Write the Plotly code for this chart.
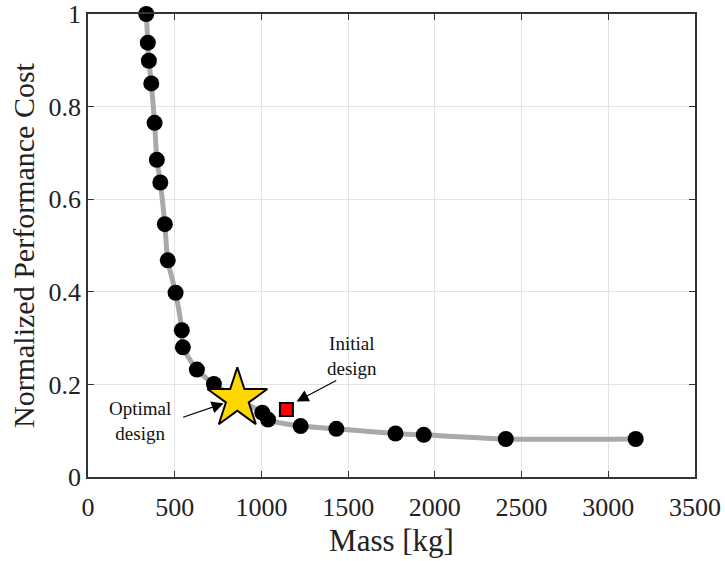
import plotly.graph_objects as go

# Pareto front designs
mass = [336, 345, 351, 365, 384, 397, 417, 443, 460, 505, 541, 547, 628, 726,
        1005, 1038, 1226, 1432, 1773, 1936, 2409, 3158]
cost = [1.0, 0.938, 0.899, 0.850, 0.765, 0.685, 0.636, 0.546, 0.468, 0.398, 0.317,
        0.280, 0.232, 0.201, 0.139, 0.124, 0.110, 0.104, 0.094, 0.091, 0.082, 0.082]

optimal_mass = [861]
optimal_cost = [0.169]
initial_mass = [1144]
initial_cost = [0.146]

x_ticks = [0, 500, 1000, 1500, 2000, 2500, 3000, 3500]
y_ticks = [0, 0.2, 0.4, 0.6, 0.8, 1.0]
y_tick_labels = ["0", "0.2", "0.4", "0.6", "0.8", "1"]

# front line passes through the optimal design
line_pts = sorted(zip(mass + optimal_mass, cost + optimal_cost))
line_x = [p[0] for p in line_pts]
line_y = [p[1] for p in line_pts]

FONT = "Liberation Serif, Times New Roman, serif"

fig = go.Figure()
fig.add_trace(go.Scatter(x=line_x, y=line_y, mode="lines",
                         line=dict(color="#a9a9ad", width=5, shape="spline", smoothing=0.6),
                         hoverinfo="skip", showlegend=False, cliponaxis=False))
fig.add_trace(go.Scatter(x=mass, y=cost, mode="markers",
                         marker=dict(color="black", size=16), showlegend=False,
                         cliponaxis=False))
fig.add_trace(go.Scatter(x=initial_mass, y=initial_cost, mode="markers",
                         marker=dict(color="#ff0000", size=13, symbol="square",
                                     line=dict(color="black", width=2)), showlegend=False))
fig.add_trace(go.Scatter(x=optimal_mass, y=optimal_cost, mode="markers",
                         marker=dict(color="#ffd700", size=45, symbol="star",
                                     line=dict(color="black", width=2)), showlegend=False))

ann_font = dict(family=FONT, size=19, color="#111111")
fig.add_annotation(x=1520, y=0.262, xref="x", yref="y", text="Initial<br>design",
                   showarrow=False, font=ann_font)
fig.add_annotation(x=1203, y=0.163, ax=1440, ay=0.210, xref="x", yref="y",
                   axref="x", ayref="y", text="", showarrow=True,
                   arrowhead=2, arrowsize=2, arrowwidth=1.2, arrowcolor="black")
fig.add_annotation(x=297, y=0.120, xref="x", yref="y", text="Optimal<br>design",
                   showarrow=False, font=ann_font)
fig.add_annotation(x=782, y=0.159, ax=540, ay=0.128, xref="x", yref="y",
                   axref="x", ayref="y", text="", showarrow=True,
                   arrowhead=2, arrowsize=2, arrowwidth=1.2, arrowcolor="black")

axis_common = dict(showgrid=True, gridcolor="#e3e3e3", gridwidth=1,
                   showline=True, linecolor="#333333", linewidth=1.5, mirror="ticks",
                   ticks="inside", ticklen=6, tickcolor="#333333", zeroline=False,
                   automargin=False,
                   tickfont=dict(family=FONT, size=26, color="#222222"))

fig.update_xaxes(range=[0, 3500], tickvals=x_ticks, ticklabelstandoff=6,
                 title=dict(text="Mass [kg]", font=dict(family=FONT, size=31, color="#222222"),
                            standoff=8),
                 **axis_common)
fig.update_yaxes(range=[0, 1], tickvals=y_ticks, ticktext=y_tick_labels,
                 title=dict(text="Normalized Performance Cost",
                            font=dict(family=FONT, size=30, color="#222222"), standoff=5),
                 **axis_common)

fig.update_layout(width=725, height=561, plot_bgcolor="white", paper_bgcolor="white",
                  margin=dict(l=88, r=30, t=14, b=84), showlegend=False)

fig.write_html("out.html")
